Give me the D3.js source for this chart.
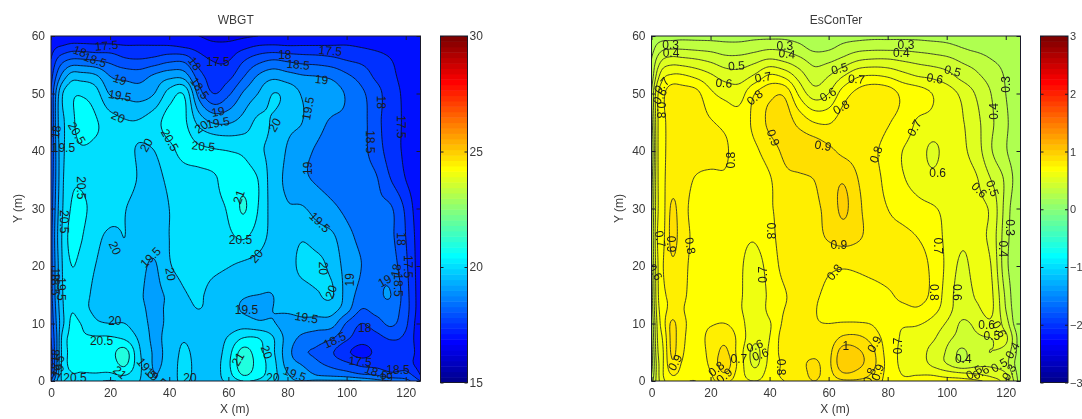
<!DOCTYPE html>
<html>
<head>
<meta charset="utf-8">
<script src="https://cdnjs.cloudflare.com/ajax/libs/d3/7.8.5/d3.min.js"></script>
<style>
html,body{margin:0;padding:0;background:#fff;}
svg{display:block;filter:blur(0.4px);}
text{font-family:"Liberation Sans",Arial,sans-serif;fill:#3a3a3a;}
.clab{fill:#1c1c1c;font-size:12px;}
</style>
</head>
<body>
<svg id="chart" width="1082" height="419"></svg>
<script>
const gridX=[0,2,4,7,10,15,20,25,30,35,40,45,50,55,60,65,70,75,80,85,90,95,100,105,110,115,120,123,125];
const gridY=[60,58,56,53,50,45,40,35,30,25,20,15,12.5,10,7.5,5,3,1,0];
const xTicks=[0,20,40,60,80,100,120];
const yTicks=[0,10,20,30,40,50,60];
const wbgtBarTicks=[15,20,25,30];
const esconBarTicks=[-3,-2,-1,0,1,2,3];
const wbgtLevels=[16.5,17,17.5,18,18.5,19,19.5,20,20.5,21,21.5];
const esconLevels=[0.1,0.2,0.3,0.4,0.5,0.6,0.7,0.8,0.9,1.0,1.1];

const wbgtValues=[
[17.02,17.05,17.05,17.05,17.05,17.05,17.05,17.05,17.05,17.05,17.05,17.05,17.0,16.8,16.8,16.9,17.0,17.05,17.05,17.05,17.05,17.05,17.05,17.03,17.03,17.03,17.03,17.03,17.02],
[17.3,17.5,17.6,17.75,17.75,17.7,17.7,17.6,17.6,17.6,17.6,17.5,17.35,17.2,17.2,17.4,17.6,17.65,17.6,17.6,17.6,17.6,17.6,17.5,17.4,17.3,17.2,17.1,17.03],
[17.5,18.0,18.3,18.5,18.5,18.4,18.3,18.05,18.0,18.1,18.3,18.3,17.7,17.45,17.45,17.9,18.25,18.45,18.35,18.25,18.2,18.1,17.95,17.85,17.7,17.5,17.3,17.2,17.03],
[17.8,18.6,19.2,19.75,19.75,19.6,19.0,18.85,18.8,19.1,19.35,19.3,18.25,17.75,17.85,18.45,19.05,19.35,19.2,19.05,19.0,18.9,18.6,18.3,17.9,17.6,17.35,17.2,17.03],
[18.0,19.2,20.0,20.4,20.45,20.2,19.45,19.35,19.25,19.5,20.2,20.45,18.8,18.0,18.4,19.05,19.5,20.0,19.85,19.45,19.25,19.2,18.95,18.6,18.2,17.7,17.4,17.2,17.03],
[17.9,19.3,19.9,20.35,20.7,20.55,20.25,20.05,20.05,20.3,20.7,20.6,19.85,19.45,19.45,19.7,20.1,19.95,19.65,19.5,19.15,18.95,18.9,18.7,18.15,17.75,17.4,17.2,17.03],
[18.0,19.2,19.9,20.3,20.45,20.4,20.3,20.15,19.95,20.0,20.35,20.65,20.6,20.55,20.5,20.4,20.1,19.85,19.45,19.15,18.95,18.85,18.8,18.65,18.25,17.75,17.4,17.2,17.03],
[18.1,19.2,19.95,20.4,20.45,20.3,20.15,20.2,19.95,19.85,20.1,20.25,20.35,20.45,20.65,20.8,20.5,19.75,19.4,19.1,18.95,18.85,18.8,18.7,18.55,18.0,17.5,17.25,17.03],
[18.2,19.3,20.0,20.55,20.6,20.35,20.2,20.02,19.8,19.75,20.0,20.2,20.3,20.4,20.55,21.05,20.5,19.8,19.55,19.55,19.3,19.1,18.9,18.75,18.6,18.55,17.9,17.4,17.1],
[18.3,19.4,20.1,20.7,20.55,20.15,19.9,20.0,19.8,19.7,20.0,20.15,20.25,20.3,20.4,20.55,20.25,19.85,19.75,19.95,19.75,19.6,19.15,18.9,18.8,18.6,18.0,17.5,17.1],
[18.3,19.3,20.05,20.5,20.35,20.0,19.8,19.95,19.65,19.45,19.95,20.15,20.15,20.1,20.02,19.9,19.8,19.65,19.75,20.15,20.15,19.85,19.3,19.0,18.9,18.75,18.1,17.55,17.1],
[18.3,19.3,20.0,20.3,20.2,19.9,19.75,19.8,19.55,19.4,19.6,19.95,20.05,19.85,19.7,19.55,19.5,19.5,19.65,19.75,19.95,20.05,19.3,18.85,18.9,19.0,18.2,17.6,17.1],
[18.2,19.2,19.95,20.45,20.2,19.9,19.8,19.8,19.6,19.4,19.6,19.85,20.0,19.85,19.7,19.45,19.4,19.5,19.6,19.7,19.75,19.7,19.2,18.5,18.7,18.8,18.2,17.6,17.1],
[18.1,19.1,19.9,20.6,20.5,20.1,20.0,20.0,19.7,19.4,19.6,19.8,19.8,19.75,19.7,19.75,19.6,19.55,19.25,19.3,19.25,19.2,18.45,18.0,18.25,18.6,18.1,17.5,17.1],
[18.0,19.0,20.2,20.6,20.55,20.55,20.55,20.4,19.9,19.4,19.7,19.95,19.7,19.7,20.05,20.5,20.5,20.05,19.3,18.9,18.75,18.55,18.1,17.75,17.85,18.05,17.9,17.45,17.1],
[17.8,19.0,20.2,20.6,20.65,20.7,20.8,21.2,20.05,19.45,19.65,20.1,19.75,19.7,20.3,21.2,20.7,20.1,19.2,18.6,18.4,18.05,17.6,17.3,17.6,17.8,17.85,17.5,17.1],
[17.7,19.0,20.2,20.6,20.6,20.6,20.7,21.1,20.1,19.45,19.7,20.15,19.8,19.75,20.4,21.3,20.8,20.2,19.3,18.95,18.6,18.35,18.1,17.85,17.8,17.7,17.8,17.45,17.2],
[18.0,19.2,20.2,20.45,20.45,20.45,20.4,20.5,20.05,19.5,19.8,20.1,19.85,19.8,20.3,21.0,20.7,20.2,19.55,19.3,19.0,18.9,18.8,18.6,18.5,18.2,18.2,17.9,17.5],
[18.5,19.5,20.1,20.3,20.3,20.1,19.95,20.1,20.0,19.5,19.85,20.05,19.85,19.85,20.1,20.5,20.4,20.05,19.6,19.5,19.6,19.6,19.6,19.5,19.2,19.0,18.7,18.3,18.0]
];
const esconValues=[
[.22,.24,.25,.25,.26,.26,.26,.26,.26,.27,.27,.27,.25,.22,.22,.25,.26,.27,.27,.27,.27,.26,.26,.25,.24,.23,.23,.23,.23],
[.25,.33,.37,.38,.38,.37,.36,.34,.34,.36,.38,.37,.33,.27,.28,.33,.36,.37,.37,.37,.36,.35,.33,.3,.27,.25,.25,.24,.23],
[.3,.42,.5,.53,.52,.5,.47,.43,.43,.46,.5,.47,.42,.36,.37,.42,.48,.5,.5,.48,.46,.44,.42,.38,.35,.3,.27,.24,.23],
[.33,.55,.68,.72,.72,.68,.62,.56,.55,.62,.72,.68,.56,.45,.5,.6,.69,.71,.69,.64,.6,.58,.54,.47,.42,.36,.29,.25,.23],
[.4,.68,.78,.86,.85,.83,.72,.67,.66,.8,.87,.88,.68,.55,.6,.75,.83,.87,.85,.78,.75,.7,.65,.58,.49,.4,.3,.25,.23],
[.35,.68,.78,.83,.85,.85,.81,.77,.74,.83,.92,.95,.87,.8,.79,.85,.87,.86,.81,.76,.69,.67,.63,.61,.53,.42,.32,.25,.23],
[.3,.68,.78,.83,.85,.86,.87,.82,.73,.78,.85,.92,.96,.96,.92,.88,.86,.82,.76,.7,.66,.58,.63,.62,.55,.41,.31,.25,.23],
[.35,.68,.78,.85,.85,.79,.76,.78,.73,.74,.79,.87,.88,.9,.95,.99,.9,.84,.77,.71,.67,.63,.65,.64,.61,.5,.38,.28,.23],
[.38,.68,.77,.92,.85,.76,.75,.74,.74,.75,.79,.83,.85,.88,.93,1.02,.92,.85,.8,.76,.73,.71,.68,.65,.62,.58,.36,.25,.23],
[.4,.7,.78,.93,.86,.77,.74,.73,.72,.71,.77,.84,.85,.87,.91,.94,.91,.87,.84,.83,.8,.75,.68,.62,.62,.57,.34,.25,.23],
[.38,.68,.8,.88,.84,.76,.73,.72,.71,.66,.74,.83,.85,.85,.82,.81,.82,.84,.86,.87,.85,.78,.68,.58,.63,.6,.33,.25,.22],
[.35,.67,.78,.82,.82,.76,.72,.72,.71,.64,.72,.79,.84,.82,.77,.74,.74,.75,.78,.83,.84,.78,.66,.55,.61,.62,.38,.25,.22],
[.33,.65,.76,.83,.81,.76,.74,.73,.71,.62,.73,.8,.84,.81,.75,.72,.71,.73,.75,.77,.79,.74,.65,.54,.58,.62,.4,.26,.22],
[.3,.62,.76,.92,.83,.77,.79,.8,.74,.62,.69,.82,.85,.81,.8,.81,.81,.79,.72,.71,.71,.67,.59,.49,.52,.58,.45,.28,.22],
[.28,.6,.72,.93,.83,.76,.83,.87,.76,.62,.7,.85,.87,.83,.84,.92,.92,.86,.75,.69,.66,.62,.53,.47,.49,.5,.52,.35,.22],
[.25,.58,.7,.92,.82,.75,.83,.92,.74,.57,.72,.84,.87,.87,.87,1.06,1.02,.92,.76,.68,.65,.57,.49,.38,.47,.5,.46,.33,.22],
[.25,.55,.7,.88,.8,.74,.82,.95,.75,.58,.73,.82,.87,.92,.88,1.08,1.03,.93,.77,.68,.66,.58,.5,.42,.47,.48,.43,.3,.22],
[.3,.55,.7,.8,.77,.72,.79,.88,.74,.65,.75,.82,.85,.92,.87,.97,.95,.88,.77,.7,.7,.7,.67,.65,.62,.58,.52,.35,.22],
[.35,.55,.68,.75,.72,.7,.78,.82,.74,.7,.75,.8,.84,.9,.85,.88,.88,.85,.77,.72,.73,.75,.75,.74,.72,.66,.55,.38,.22]
];
const wbgtLabelText=["17.5","18","18.5","19","19.5","20","20.5","19.5","18","20","20.5","20.5","20","19.5","19","18.5","18","17.5","21","17.5","18","18.5","19","19.5","20","18","17.5","18.5","19","20.5","20.5","20","19.5","20","20.5","20","19.5","20","20.5","20.5","21","19.5","19.5","20","21","20","18","18.5","19","18","18.5","19.5","19.5","20","20","19","19.5","18","18.5","17.5","19","18","18.5","17.5","18","19.5","20","18.5","18.5","19"];
const wbgtLabelX=[18.8,9.8,14.9,23.3,23.3,22.7,8.7,4.2,1.7,32.3,40.2,51.5,50.9,56.5,56.5,50.3,48.6,56.5,63.6,94.5,79.1,83.6,91.5,87,75.7,111.7,118.5,107.8,87,10.1,4.4,21.6,33.7,40.4,64.1,69.5,66.1,21.6,17.1,8.1,23.3,32.3,35.4,47,63.3,72.9,1.4,1.7,2.5,1.4,1.4,3.3,90.9,92,94.8,101,86.4,106.1,96,104.6,112.9,116.8,117.4,120.7,118.5,82.4,75.1,110,117.4,113.4];
const wbgtLabelY=[58.3,57.3,55.8,52.4,49.6,45.9,43.1,40.5,43.3,41,41.9,40.8,44.2,44.9,46.8,50.9,55.2,55.4,32,57.4,56.7,55,52.4,47.4,44.5,48.5,44.2,41.6,37,33.6,27.7,23.1,21.5,18.6,24.6,21.7,12.3,10.5,7,0.6,1.5,2.2,0.6,0.5,3.8,5,4.4,2.7,1.8,18.6,16.9,16,27.6,19.6,15.5,17.6,11,9.2,7.1,3.4,17.4,19.2,16.7,19.9,24.7,1.2,0.5,1.5,2,0.6];
const wbgtLabelAngle=[-5,20,20,20,10,25,60,0,-80,-60,60,5,-35,-10,-10,55,55,0,-70,5,0,5,5,-80,-60,90,90,90,-90,90,90,65,-45,80,0,-50,0,0,0,0,40,50,40,0,-60,70,-80,-60,-60,90,90,90,45,90,-70,-90,10,0,-25,5,-30,-80,90,90,90,20,0,20,0,0];
const esconLabelText=["0.3","0.4","0.5","0.6","0.7","0.8","0.9","0.9","0.8","0.3","0.4","0.5","0.6","0.8","0.7","0.6","0.8","0.7","0.3","0.4","0.5","0.6","0.3","0.4","0.7","0.8","0.6","0.6","0.5","0.9","0.8","0.7","0.8","0.8","0.9","0.7","0.6","0.9","0.6","0.6","0.8","0.7","0.8","0.9","1","0.7","0.8","0.6","0.3","0.4","0.6","0.6","0.5","0.7","0.9","0.9","0.8","0.4","0.5","0.6","0.5","0.4","0.3"];
const esconLabelX=[6.5,6.6,28.8,24.5,37.8,35,41.2,58.1,27.1,45.2,45.9,63.7,59.8,64.3,3.5,2.9,3.2,69.4,86.2,84.6,102,96,120,116.1,89.1,76.1,96.9,111,115.5,63.5,62,37.8,40.4,13.1,6.6,2.9,1.2,8,35,36.9,44,29.6,22,24.7,65.8,96.9,95.8,103.4,121.4,119.1,113.5,117.8,115.3,83.4,75.5,76.7,73.9,105.6,109.3,111.6,117.8,122.3,121.2];
const esconLabelY=[58.4,57.1,54.8,51.8,52.8,49.3,42.3,40.9,38.4,58.3,56.9,54.3,49.8,47.6,51.4,49.5,47.1,52.5,58.5,57,53.9,52.6,51.6,46.9,44,39.4,36.1,33.2,33.5,23.7,18.9,18.5,26.1,23.5,23.8,24.7,18.9,3.2,6.1,4.6,2.4,3.8,2.1,0.9,6.1,23.5,15.4,15.4,26.7,23,9.8,9,7.9,6.1,6.4,1.5,0.9,3.9,1.5,1.5,2.7,5.3,1.5];
const esconLabelAngle=[0,0,-5,5,-10,-40,70,10,-90,0,5,-15,-30,-30,-50,-60,90,5,0,0,15,10,-90,-90,-60,-70,0,45,70,0,-50,-90,90,80,90,80,60,-60,-20,-20,90,0,-40,-40,0,90,90,90,90,90,0,60,0,-90,-60,-70,-70,0,-30,-30,-30,-60,-60];

const XMAX=125,YMAX=60,FINE=0.5;
function jet64(i){
  const f=k=>Math.round(k*255);
  let r,g,b;
  r=i<=24?0:i<=40?(i-24)/16:i<=56?1:1-(i-56)/16;
  g=i<=8?0:i<=24?(i-8)/16:i<=40?1:i<=56?1-(i-40)/16:0;
  b=i<=8?(i+8)/16:i<=24?1:i<=40?1-(i-24)/16:0;
  return `rgb(${f(r)},${f(g)},${f(b)})`;
}
function colorOf(v,lo,hi){
  let i=Math.floor((v-lo)/(hi-lo)*64)+1;
  return jet64(Math.max(1,Math.min(64,i)));
}
function spline(xs,ys,x){
  const n=xs.length;
  const asc=xs[0]<xs[n-1];
  let i=0;
  if(asc){while(i<n-2&&x>xs[i+1])i++;}else{while(i<n-2&&x<xs[i+1])i++;}
  const m=k=>{
    if(k<=0)return (ys[1]-ys[0])/(xs[1]-xs[0]);
    if(k>=n-1)return (ys[n-1]-ys[n-2])/(xs[n-1]-xs[n-2]);
    return (ys[k+1]-ys[k-1])/(xs[k+1]-xs[k-1]);
  };
  const h=xs[i+1]-xs[i],t=(x-xs[i])/h,t2=t*t,t3=t2*t;
  return (2*t3-3*t2+1)*ys[i]+(t3-2*t2+t)*h*m(i)+(-2*t3+3*t2)*ys[i+1]+(t3-t2)*h*m(i+1);
}
function resample(rows){
  const nx=Math.round(XMAX/FINE)+1,ny=Math.round(YMAX/FINE)+1;
  const horiz=rows.map(r=>d3.range(nx).map(i=>spline(gridX,r,i*FINE)));
  const out=new Float64Array(nx*ny);
  for(let i=0;i<nx;i++){
    const col=horiz.map(r=>r[i]);
    for(let j=0;j<ny;j++){out[j*nx+i]=spline(gridY,col,j*FINE);}
  }
  return {nx,ny,out};
}
const svg=d3.select("#chart");
let uid=0;
function panel(o){
  const x=d3.scaleLinear().domain([0,XMAX]).range([o.left,o.right]);
  const y=d3.scaleLinear().domain([0,YMAX]).range([o.bottom,o.top]);
  const id="clip"+(uid++);
  svg.append("clipPath").attr("id",id).append("rect").attr("x",o.left).attr("y",o.top).attr("width",o.right-o.left).attr("height",o.bottom-o.top);
  const g=svg.append("g").attr("clip-path",`url(#${id})`);
  const {nx,ny,out}=resample(o.rows);
  const conts=d3.contours().size([nx,ny]).smooth(true).thresholds(o.levels)(out);
  const proj=d3.geoTransform({point(cx,cy){this.stream.point(x((cx-0.5)*FINE),y((cy-0.5)*FINE));}});
  const path=d3.geoPath(proj);
  g.append("rect").attr("x",o.left).attr("y",o.top).attr("width",o.right-o.left).attr("height",o.bottom-o.top)
    .attr("fill",colorOf(o.levels[0]-(o.levels[1]-o.levels[0]),o.cmin,o.cmax));
  g.selectAll("path.fill").data(conts).join("path").attr("class","fill").attr("d",path)
    .attr("fill",d=>colorOf(d.value+1e-6,o.cmin,o.cmax)).attr("stroke","none");
  g.selectAll("path.line").data(conts).join("path").attr("class","line").attr("d",path)
    .attr("fill","none").attr("stroke",o.lineColor).attr("stroke-width",0.9);
  g.selectAll("text.clab").data(o.labelText).join("text").attr("class","clab")
    .attr("text-anchor","middle").attr("dominant-baseline","central")
    .attr("transform",(d,i)=>`translate(${x(o.labelX[i])},${y(o.labelY[i])}) rotate(${o.labelAngle[i]})`)
    .text(d=>d);
  const ax=svg.append("g").attr("class","ax");
  ax.append("rect").attr("x",o.left).attr("y",o.top).attr("width",o.right-o.left).attr("height",o.bottom-o.top).attr("fill","none").attr("stroke","#1a1a2a").attr("stroke-width",1);
  const tk=(sel)=>{sel.select(".domain").remove();sel.selectAll("line").attr("stroke","#1a1a2a");sel.selectAll("text").attr("font-size",12).attr("fill","#3a3a3a");};
  ax.append("g").attr("transform",`translate(0,${o.bottom})`).call(d3.axisBottom(x).tickValues(xTicks).tickFormat(d3.format("d")).tickSize(-4).tickPadding(7)).call(tk);
  ax.append("g").attr("transform",`translate(0,${o.top})`).call(d3.axisTop(x).tickValues(xTicks).tickFormat("").tickSize(-4)).call(tk);
  ax.append("g").attr("transform",`translate(${o.left},0)`).call(d3.axisLeft(y).tickValues(yTicks).tickFormat(d3.format("d")).tickSize(-4).tickPadding(6)).call(tk);
  ax.append("g").attr("transform",`translate(${o.right},0)`).call(d3.axisRight(y).tickValues(yTicks).tickFormat("").tickSize(-4)).call(tk);
  const cx=(o.left+o.right)/2;
  svg.append("text").attr("x",cx).attr("y",24).attr("text-anchor","middle").attr("font-size",12).text(o.title);
  svg.append("text").attr("x",cx-1).attr("y",413).attr("text-anchor","middle").attr("font-size",12).text("X (m)");
  svg.append("text").attr("transform",`translate(${o.left-29},${(o.top+o.bottom)/2}) rotate(-90)`).attr("text-anchor","middle").attr("font-size",12).text("Y (m)");
  // colour bar
  const c=d3.scaleLinear().domain([o.cmin,o.cmax]).range([o.barBottom,o.top]);
  const steps=d3.range(64);
  svg.append("g").selectAll("rect").data(steps).join("rect")
    .attr("x",o.barLeft).attr("width",o.barRight-o.barLeft)
    .attr("y",i=>c(o.cmin+(i+1)/64*(o.cmax-o.cmin)))
    .attr("height",(o.barBottom-o.top)/64+0.5)
    .attr("fill",i=>jet64(i+1));
  const bx=svg.append("g");
  bx.append("rect").attr("x",o.barLeft).attr("y",o.top).attr("width",o.barRight-o.barLeft).attr("height",o.barBottom-o.top).attr("fill","none").attr("stroke","#1a1a2a");
  bx.append("g").attr("transform",`translate(${o.barRight},0)`).call(d3.axisRight(c).tickValues(o.barTicks).tickFormat(d3.format("d")).tickSize(-3).tickPadding(2)).call(tk).call(s=>s.selectAll("text").attr("font-size",o.barFont));
  bx.append("g").attr("transform",`translate(${o.barLeft},0)`).call(d3.axisLeft(c).tickValues(o.barTicks).tickFormat("").tickSize(-3)).call(tk);
}
panel({left:51,right:420.5,top:36,bottom:381,barLeft:440.5,barRight:467.5,barBottom:382.5,cmin:15,cmax:30,barFont:12,
  rows:wbgtValues,levels:wbgtLevels,barTicks:wbgtBarTicks,title:"WBGT",lineColor:"#06102a",
  labelText:wbgtLabelText,labelX:wbgtLabelX,labelY:wbgtLabelY,labelAngle:wbgtLabelAngle});
panel({left:651.5,right:1020.5,top:36,bottom:381,barLeft:1040.5,barRight:1068,barBottom:382.5,cmin:-3,cmax:3,barFont:11,
  rows:esconValues,levels:esconLevels,barTicks:esconBarTicks,title:"EsConTer",lineColor:"#30322a",
  labelText:esconLabelText,labelX:esconLabelX,labelY:esconLabelY,labelAngle:esconLabelAngle});
</script>
</body>
</html>
